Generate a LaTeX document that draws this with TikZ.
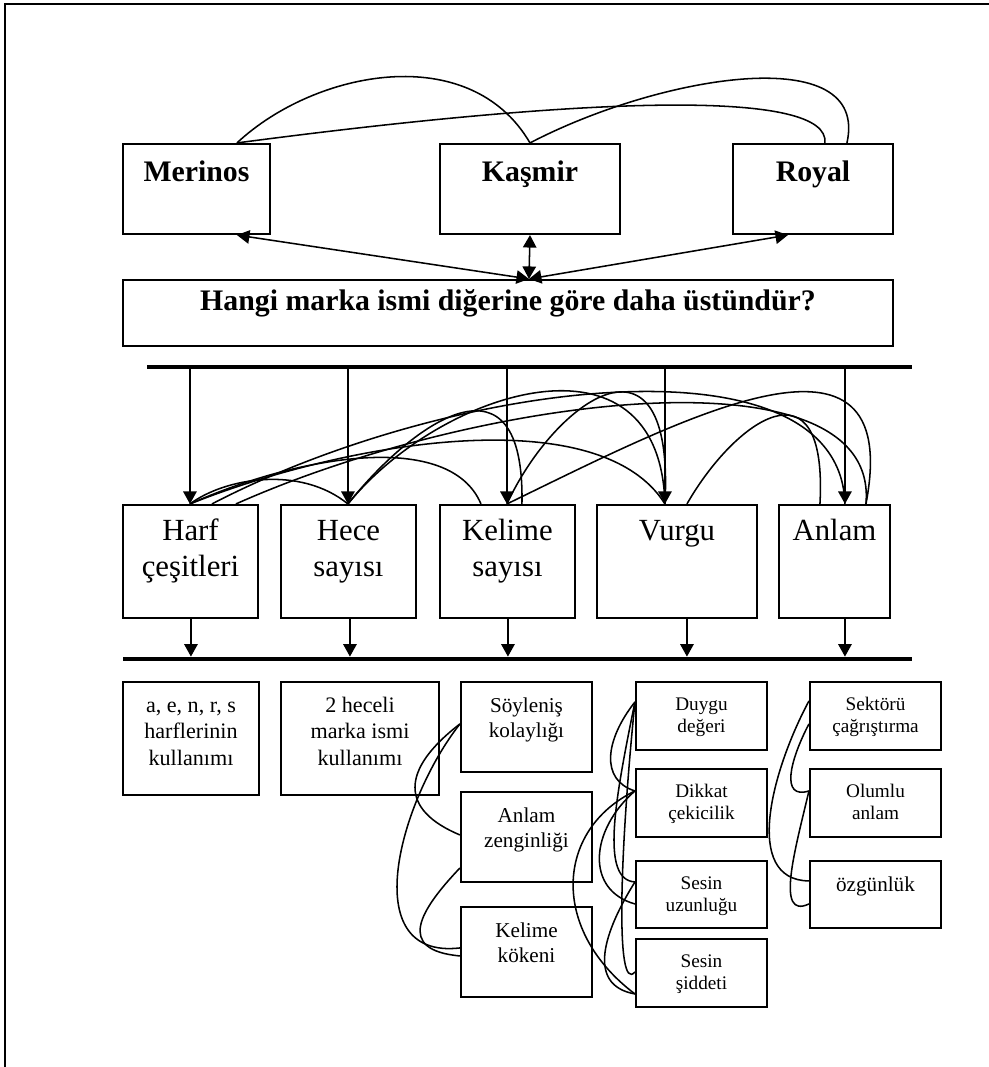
\documentclass[tikz,border=0pt]{standalone}
\usepackage{fontspec}
\setmainfont{Liberation Serif}
\usetikzlibrary{arrows.meta, calc, fit}

\begin{document}
\begin{tikzpicture}[
    x=0.52pt, y=-0.52pt,
    kutu/.style={draw, line width=1.1pt, inner sep=0pt},
    yazi/.style={anchor=north, align=center, inner sep=0pt},
    cubuk/.style={fill, inner sep=0pt},
    bag/.style={line width=0.8pt},
    ok/.style={line width=0.8pt, -{Triangle[length=6.5pt, width=7pt]}},
    cift/.style={line width=0.8pt, {Triangle[length=6.5pt, width=7pt]}-{Triangle[length=6.5pt, width=7pt]}},
    baslik/.style={font=\fontsize{15.5}{18.5}\selectfont\bfseries},
    orta/.style={font=\fontsize{16}{18.7}\selectfont},
    kucuk/.style={font=\fontsize{11.5}{13.8}\selectfont},
    dar/.style={font=\fontsize{11}{13.3}\selectfont},
    ufak/.style={font=\fontsize{10}{11.3}\selectfont}
]
    \useasboundingbox (0,0) rectangle (989,1067);
    % cerceve
    \draw[line width=1pt] (989,4) -- (5,4) -- (5,1067);

    % --- markalar ---
    \node[kutu, fit={(123,144) (270,234)}, label={[yazi, baslik, yshift=-6.8pt]north:\strut Merinos}] (merinos) {};
    \node[kutu, fit={(440,144) (620,234)}, label={[yazi, baslik, yshift=-6.8pt]north:\strut Kaşmir}] (kasmir) {};
    \node[kutu, fit={(733,144) (893,234)}, label={[yazi, baslik, yshift=-6.8pt]north:\strut Royal}] (royal) {};
    \node[kutu, fit={(123,280) (893,346)}, label={[yazi, baslik, yshift=-3pt]north:\strut Hangi marka ismi diğerine göre daha üstündür?}] (soru) {};

    \coordinate (merinos-ust) at ($(merinos.north west)+(115,0)$);
    \coordinate (merinos-alt) at ($(merinos.south west)+(115,0)$);
    \coordinate (royal-ust1) at ($(royal.north west)+(93,0)$);
    \coordinate (royal-ust2) at ($(royal.north west)+(115,0)$);
    \coordinate (royal-alt) at ($(royal.south west)+(56,0)$);
    \coordinate (soru-ust) at ($(soru.north west)+(407,0)$);

    \draw[bag] (merinos-ust) .. controls (315,70) and (470,40) .. (kasmir.north);
    \draw[bag] (merinos-ust) .. controls (600,95) and (830,90) .. (royal-ust1);
    \draw[bag] (kasmir.north) .. controls (660,75) and (870,40) .. (royal-ust2);
    \draw[cift] (merinos-alt) -- (soru-ust);
    \draw[cift] (kasmir.south) -- (soru-ust);
    \draw[cift] (royal-alt) -- (soru-ust);

    % --- olcutler ---
    \node[cubuk, fit={(147,365) (912,369)}] (cubuk1) {};
    \node[cubuk, fit={(123,657) (912,661)}] (cubuk2) {};

    \node[kutu, fit={(123,505) (258,618)}, label={[yazi, orta, yshift=-5.8pt]north:{\strut Harf\\çeşitleri}}] (harf) {};
    \node[kutu, fit={(281,505) (416,618)}, label={[yazi, orta, yshift=-5.8pt]north:{\strut Hece\\sayısı}}] (hece) {};
    \node[kutu, fit={(440,505) (575,618)}, label={[yazi, orta, yshift=-5.8pt]north:{\strut Kelime\\sayısı}}] (kelime) {};
    \node[kutu, fit={(597,505) (757,618)}, label={[yazi, orta, yshift=-5.8pt]north:\strut Vurgu}] (vurgu) {};
    \node[kutu, fit={(779,505) (890,618)}, label={[yazi, orta, yshift=-5.8pt]north:\strut Anlam}] (anlam) {};

    % baglanti noktalari
    \coordinate (harf-p) at ($(harf.north west)+(68,0)$);
    \coordinate (harf-q) at ($(harf.north west)+(90,0)$);
    \coordinate (harf-r) at ($(harf.north west)+(114,0)$);
    \coordinate (hece-p) at ($(hece.north west)+(68,0)$);
    \coordinate (kelime-k) at ($(kelime.north west)+(42,0)$);
    \coordinate (kelime-p) at ($(kelime.north west)+(68,0)$);
    \coordinate (kelime-r) at ($(kelime.north west)+(83,0)$);
    \coordinate (vurgu-p) at ($(vurgu.north west)+(69,0)$);
    \coordinate (vurgu-r) at ($(vurgu.north west)+(91,0)$);
    \coordinate (anlam-k) at ($(anlam.north west)+(42,0)$);
    \coordinate (anlam-p) at ($(anlam.north west)+(67,0)$);
    \coordinate (anlam-r) at ($(anlam.north west)+(88,0)$);
    \coordinate (harf-a) at ($(harf.south west)+(69,0)$);
    \coordinate (hece-a) at ($(hece.south west)+(70,0)$);
    \coordinate (kelime-a) at ($(kelime.south west)+(69,0)$);
    \coordinate (vurgu-a) at ($(vurgu.south west)+(91,0)$);
    \coordinate (anlam-a) at ($(anlam.south west)+(67,0)$);

    \foreach \n in {harf,hece,kelime,vurgu,anlam}
        \draw[ok] (cubuk1.south -| \n-p) -- (\n-p);
    \foreach \n in {harf,hece,kelime,vurgu,anlam}
        \draw[ok] (\n-a) -- (\n-a |- cubuk2.north);

    \draw[bag] (harf-p) .. controls (225,478) and (300,465) .. (hece-p);
    \draw[bag] (harf-p) .. controls (300,455) and (450,430) .. (kelime-k);
    \draw[bag] (harf-p) .. controls (350,440) and (600,400) .. (vurgu-p);
    \draw[bag] (harf-q) .. controls (450,380) and (840,330) .. (anlam-p);
    \draw[bag] (harf-r) .. controls (480,395) and (880,345) .. (anlam-r);
    \draw[bag] (hece-p) .. controls (415,420) and (525,345) .. (kelime-r);
    \draw[bag] (hece-p) .. controls (440,390) and (660,320) .. (vurgu-p);
    \draw[bag] (kelime-p) .. controls (555,400) and (675,315) .. (vurgu-p);
    \draw[bag] (kelime-p) .. controls (680,420) and (905,300) .. (anlam-r);
    \draw[bag] (vurgu-r) .. controls (735,420) and (828,355) .. (anlam-k);

    % --- alt kutular ---
    \node[kutu, fit={(123,682) (259,795)}, label={[yazi, kucuk, yshift=-6.4pt]north:{\strut a, e, n, r, s\\harflerinin\\kullanımı}}] (harfkul) {};
    \node[kutu, fit={(281,682) (439,795)}, label={[yazi, kucuk, yshift=-6.4pt]north:{\strut 2 heceli\\marka ismi\\kullanımı}}] (hecekul) {};

    \node[kutu, fit={(461,682) (592,772)}, label={[yazi, dar, yshift=-6.8pt]north:{\strut Söyleniş\\kolaylığı}}] (soylenis) {};
    \node[kutu, fit={(461,792) (592,882)}, label={[yazi, dar, yshift=-6.8pt]north:{\strut Anlam\\zenginliği}}] (zenginlik) {};
    \node[kutu, fit={(461,907) (592,997)}, label={[yazi, dar, yshift=-6.8pt]north:{\strut Kelime\\kökeni}}] (koken) {};

    \node[kutu, fit={(636,682) (767,750)}, label={[yazi, ufak, yshift=-7.2pt]north:{\strut Duygu\\değeri}}] (duygu) {};
    \node[kutu, fit={(636,769) (767,837)}, label={[yazi, ufak, yshift=-7.2pt]north:{\strut Dikkat\\çekicilik}}] (dikkat) {};
    \node[kutu, fit={(636,861) (767,928)}, label={[yazi, ufak, yshift=-7.2pt]north:{\strut Sesin\\uzunluğu}}] (uzunluk) {};
    \node[kutu, fit={(636,939) (767,1007)}, label={[yazi, ufak, yshift=-7.2pt]north:{\strut Sesin\\şiddeti}}] (siddet) {};

    \node[kutu, fit={(810,682) (941,750)}, label={[yazi, ufak, yshift=-7.2pt]north:{\strut Sektörü\\çağrıştırma}}] (sektor) {};
    \node[kutu, fit={(810,769) (941,837)}, label={[yazi, ufak, yshift=-7.2pt]north:{\strut Olumlu\\anlam}}] (olumlu) {};
    \node[kutu, fit={(810,861) (941,928)}, label={[yazi, dar, yshift=-6.8pt]north:\strut özgünlük}] (ozgun) {};

    % kelime sutunu
    \draw[bag] ($(soylenis.north west)+(0,43)$) .. controls (400,770) and (400,810) .. ($(zenginlik.north west)+(0,44)$);
    \draw[bag] ($(soylenis.north west)+(0,43)$) .. controls (400,800) and (355,960) .. ($(koken.north west)+(0,42)$);
    \draw[bag] ($(zenginlik.north west)+(0,77)$) .. controls (420,910) and (395,950) .. ($(koken.north west)+(0,50)$);

    % vurgu sutunu
    \draw[bag] ($(duygu.north west)+(0,21)$) .. controls (605,740) and (600,780) .. ($(dikkat.north west)+(0,23)$);
    \draw[bag] ($(duygu.north west)+(0,21)$) .. controls (615,800) and (600,880) .. ($(uzunluk.north west)+(0,22)$);
    \draw[bag] ($(duygu.north west)+(0,21)$) .. controls (620,850) and (615,995) .. ($(siddet.north west)+(0,34)$);
    \draw[bag] ($(dikkat.north west)+(0,23)$) .. controls (590,830) and (585,890) .. ($(uzunluk.north west)+(0,44)$);
    \draw[bag] ($(dikkat.north west)+(0,23)$) .. controls (555,830) and (550,930) .. ($(siddet.north west)+(0,56)$);
    \draw[bag] ($(uzunluk.north west)+(0,22)$) .. controls (605,930) and (585,985) .. ($(siddet.north west)+(0,56)$);

    % anlam sutunu
    \draw[bag] ($(sektor.north west)+(0,20)$) .. controls (772,770) and (742,880) .. ($(ozgun.north west)+(0,21)$);
    \draw[bag] ($(sektor.north west)+(0,43)$) .. controls (790,760) and (780,800) .. ($(olumlu.north west)+(0,23)$);
    \draw[bag] ($(olumlu.north west)+(0,23)$) .. controls (795,850) and (775,920) .. ($(ozgun.north west)+(0,44)$);
\end{tikzpicture}
\end{document}
